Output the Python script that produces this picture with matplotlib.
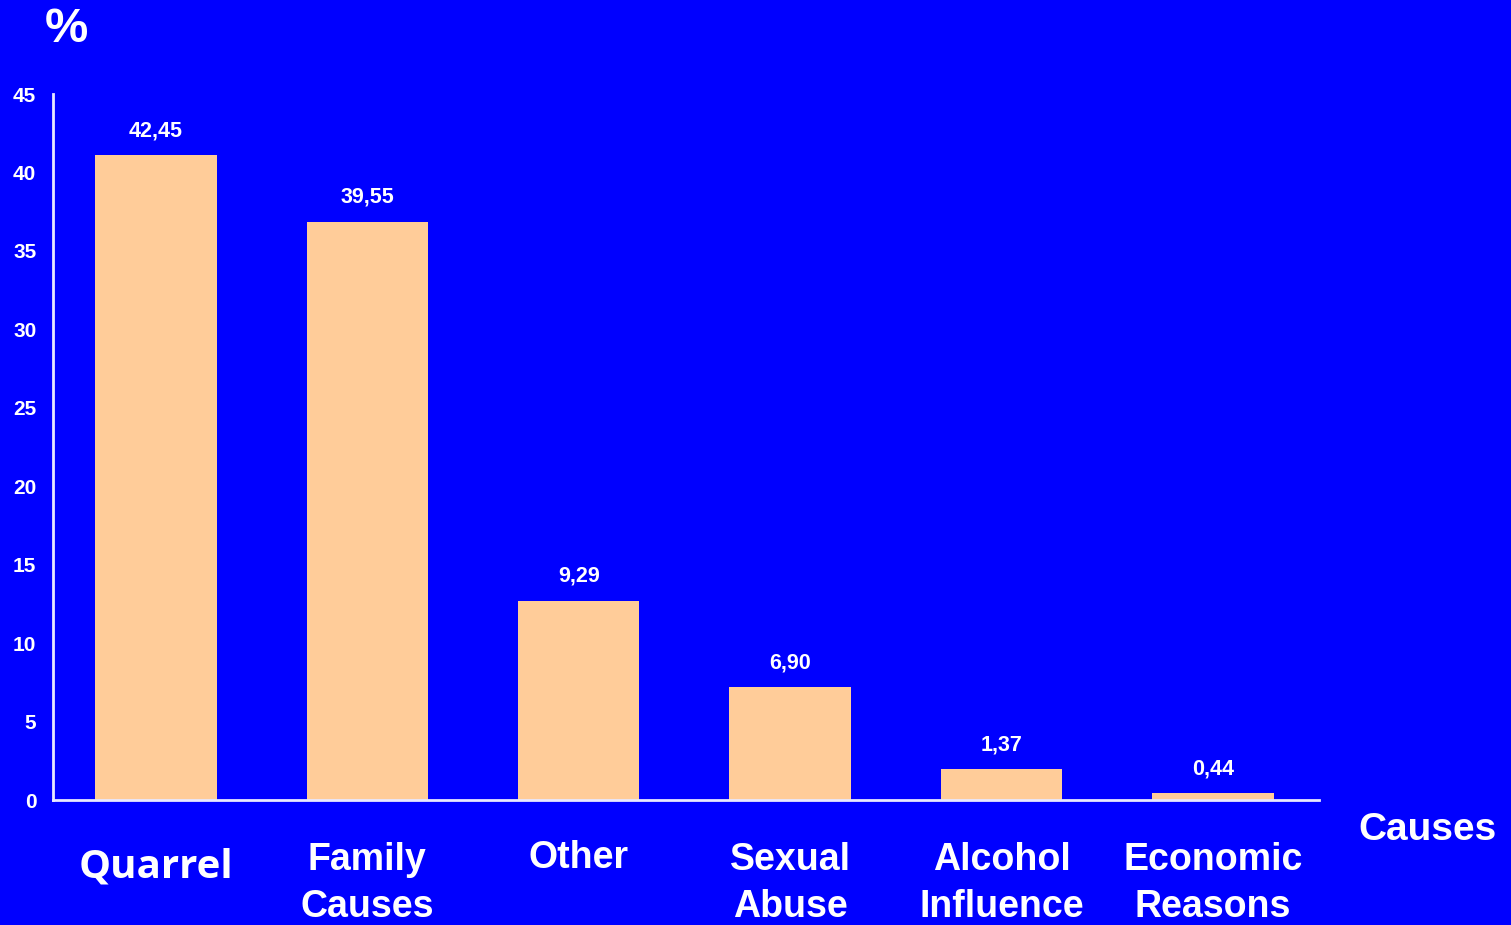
import matplotlib
matplotlib.use("Agg")
import matplotlib.pyplot as plt
import numpy as np

categories = ["Quarrel", "Family\nCauses", "Other", "Sexual\nAbuse", "Alcohol\nInfluence", "Economic\nReasons"]
bar_heights = [41.1, 36.85, 12.7, 7.2, 1.98, 0.45]
value_labels = ["42,45", "39,55", "9,29", "6,90", "1,37", "0,44"]
y_ticks = [0, 5, 10, 15, 20, 25, 30, 35, 40, 45]

BG = "#0000FF"
BAR = "#FFCC99"
W, H = 1511, 925

fig = plt.figure(figsize=(W / 100, H / 100), dpi=100, facecolor=BG)
ax = fig.add_axes([53 / W, (H - 800) / H, (1319 - 53) / W, (800 - 94) / H])
ax.set_facecolor(BG)

x = np.arange(len(categories))
ax.bar(x, bar_heights, width=0.575, color=BAR, edgecolor="none", zorder=2)

for xi, h, lab in zip(x, bar_heights, value_labels):
    ax.annotate(lab, (xi, h), xytext=(0, 10), textcoords="offset points",
                ha="center", va="bottom", color="white", fontsize=15.5,
                fontweight="bold", family="Liberation Sans")

ax.set_xlim(-0.487, 5.502)
ax.set_ylim(0, 45)
ax.set_yticks(y_ticks)
ax.set_yticklabels([str(t) for t in y_ticks], color="white", fontsize=15,
                   fontweight="bold", family="Liberation Sans")
ax.tick_params(axis="y", length=0, pad=12)
ax.set_xticks([])

for xi, cat in zip(x, categories):
    if "\n" in cat:
        ax.annotate(cat, xy=(xi, 0), xycoords=("data", "axes fraction"),
                    xytext=(0, -60), textcoords="offset points",
                    ha="center", va="center", color="white", fontsize=27,
                    fontweight="bold", family="Liberation Sans", linespacing=1.38)
    else:
        fam = "Open Sans" if cat == "Quarrel" else "Liberation Sans"
        size = 29 if cat == "Quarrel" else 27
        dy = -48 if cat == "Quarrel" else -42
        ax.annotate(cat, xy=(xi, 0), xycoords=("data", "axes fraction"),
                    xytext=(0, dy), textcoords="offset points",
                    ha="center", va="center", color="white", fontsize=size,
                    fontweight="bold", family=fam)

for s in ["top", "right"]:
    ax.spines[s].set_visible(False)
for s in ["left", "bottom"]:
    ax.spines[s].set_color("#E8E8FF")
    ax.spines[s].set_linewidth(2)

fig.text(45 / W, 1 - 29 / H, "%", color="white", fontsize=35, fontweight="bold",
         family="Liberation Sans", ha="left", va="center")
fig.text(1358 / W, 1 - 830 / H, "Causes", color="white", fontsize=28, fontweight="bold",
         family="Liberation Sans", ha="left", va="center")

fig.savefig("out.png", dpi=100, facecolor=BG)
